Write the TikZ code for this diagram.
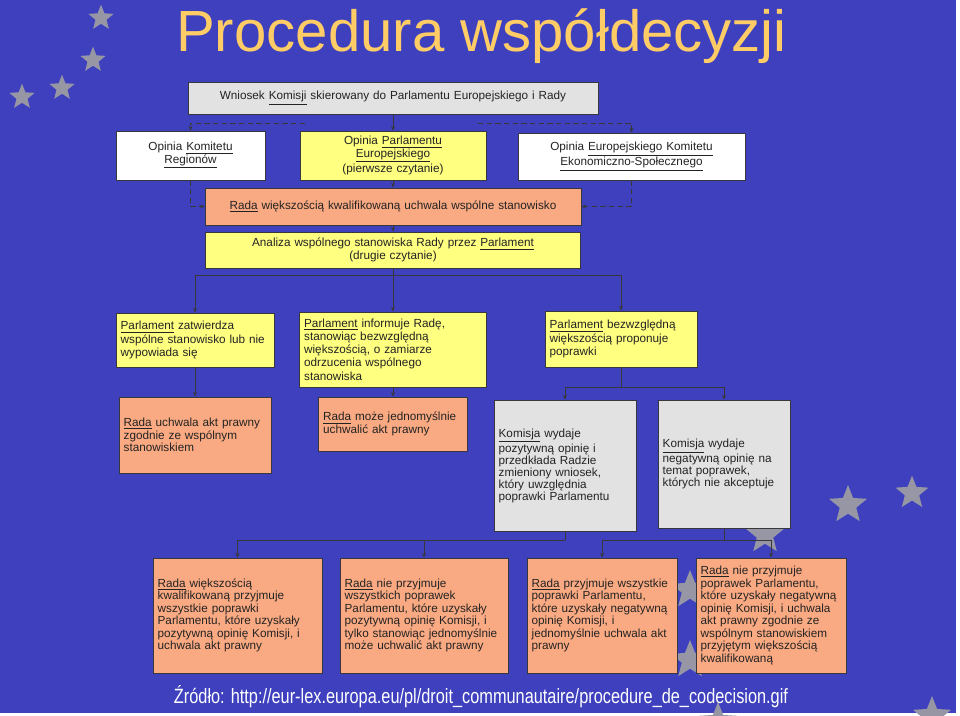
\documentclass[tikz,border=0pt]{standalone}
\usepackage{fontspec}
\setmainfont{Liberation Sans}
\usepackage{xcolor}
\usepackage{tikz}
\usetikzlibrary{
  shapes.geometric, arrows.meta, positioning, calc
}
\definecolor{slideblue}{RGB}{62,64,190}
\definecolor{titleorange}{RGB}{255,204,102}
\definecolor{stargray}{RGB}{150,150,165}
\definecolor{boxyellow}{RGB}{255,255,128}
\definecolor{boxorange}{RGB}{250,170,130}
\definecolor{boxgray}{RGB}{226,226,226}
\definecolor{boxline}{RGB}{55,55,60}
\definecolor{textdark}{RGB}{35,35,35}
\tikzset{
  cellbox/.style={
    rectangle, draw=boxline, line width=0.6pt, inner xsep=3.5pt, inner ysep=2pt,
    align=left, text=textdark, font=\fontsize{8.8}{9.4}\selectfont
  },
  centerbox/.style={cellbox, align=center},
  whitebox/.style={centerbox, fill=white},
  yellowbox/.style={cellbox, fill=boxyellow},
  orangebox/.style={cellbox, fill=boxorange},
  graybox/.style={cellbox, fill=boxgray},
  starshape/.style={
    star, star points=5, star point ratio=2.3, fill=stargray, inner sep=0pt
  },
  link/.style={line width=0.7pt, draw=boxline},
  arrow/.style={link, -{Stealth[length=3.5pt, width=3pt]}},
  dasharrow/.style={arrow, dash pattern=on 4pt off 2.5pt}
}

\begin{document}
\begin{tikzpicture}[x=0.75pt, y=-0.75pt]
  % Slide
  \useasboundingbox (0,0) rectangle (960,716);
  \fill[white] (0,0) rectangle (960,716);
  \fill[slideblue] (0,0) rectangle (956,713);
  \foreach \sx/\sy/\ssz [count=\i] in {101/18/20pt, 93/60/20pt, 62/88/20pt,
      22/97/20pt, 848/505/30pt, 912/493/26pt, 765/535/30pt, 690/590/30pt,
      690/660/30pt, 718/722/30pt, 932/716/30pt} {
    \node[starshape, minimum size=\ssz] (star\i) at (\sx,\sy) {};
  }

  % Title
  \node[font=\fontsize{43.6}{50}\selectfont, text=titleorange, anchor=base]
    (title) at (481.5,52) {Procedura współdecyzji};

  % First reading
  \node[centerbox, fill=boxgray, text width=300.5pt, minimum height=24pt]
    (wniosek) at (393,98)
    {Wniosek \underline{Komisji} skierowany do Parlamentu Europejskiego i Rady};
  \node[whitebox, text width=104.75pt, minimum height=36.75pt]
    (regiony) at (190.5,155.5) {Opinia \underline{Komitetu}\\\underline{Regionów}};
  \node[centerbox, fill=boxyellow, text width=132.5pt, minimum height=36.75pt]
    (pierwsze) at (393,155.5)
    {Opinia \underline{Parlamentu}\\\underline{Europejskiego}\\(pierwsze czytanie)};
  \node[whitebox, text width=163.25pt, minimum height=35.25pt]
    (ekes) at (631.5,156.5)
    {Opinia \underline{Europejskiego Komitetu}\\\underline{Ekonomiczno-Społecznego}};
  \node[centerbox, fill=boxorange, text width=275pt, minimum height=27.75pt]
    (stanowisko) at (393,206.5)
    {\underline{Rada} większością kwalifikowaną uchwala wspólne stanowisko};
  \node[centerbox, fill=boxyellow, text width=274.25pt, minimum height=27pt]
    (drugie) at (393,250)
    {Analiza wspólnego stanowiska Rady przez \underline{Parlament}\\(drugie czytanie)};

  % Second reading
  \node[yellowbox, font=\fontsize{8.8}{9.9}\selectfont, text width=111.5pt,
        minimum height=40.5pt] (zatwierdza) at (195,340)
    {\underline{Parlament} zatwierdza\\wspólne stanowisko lub nie\\wypowiada się};
  \node[yellowbox, font=\fontsize{8.8}{9.9}\selectfont, text width=133.25pt,
        minimum height=56.25pt] (informuje) at (393,349.5)
    {\underline{Parlament} informuje Radę,\\stanowiąc bezwzględną\\większością, o zamiarze\\odrzucenia wspólnego\\stanowiska};
  \node[yellowbox, font=\fontsize{8.8}{9.9}\selectfont, text width=107pt,
        minimum height=42pt] (poprawki) at (621,339)
    {\underline{Parlament} bezwzględną\\większością proponuje\\poprawki};

  % Council and Commission
  \node[orangebox, font=\fontsize{8.8}{9.4}\selectfont, text width=107pt,
        minimum height=57pt] (uchwala) at (195,435)
    {\underline{Rada} uchwala akt prawny\\zgodnie ze wspólnym\\stanowiskiem};
  \node[orangebox, font=\fontsize{8.8}{9.4}\selectfont, text width=104.75pt,
        minimum height=40.5pt] (jednomysl) at (393,424)
    {\underline{Rada} może jednomyślnie\\uchwalić akt prawny};
  \node[graybox, font=\fontsize{8.8}{9}\selectfont, text width=99.5pt,
        minimum height=98.25pt] (pozytywna) at (565,465.5)
    {\underline{Komisja} wydaje\\pozytywną opinię i\\przedkłada Radzie\\zmieniony wniosek,\\który uwzględnia\\poprawki Parlamentu};
  \node[graybox, font=\fontsize{8.8}{9}\selectfont, text width=92pt,
        minimum height=96pt] (negatywna) at (724,464)
    {\underline{Komisja} wydaje\\negatywną opinię na\\temat poprawek,\\których nie akceptuje};

  % Final decisions
  \node[orangebox, text width=119.75pt, minimum height=86.25pt]
    (kwalif) at (237.5,615.5)
    {\underline{Rada} większością\\kwalifikowaną przyjmuje\\wszystkie poprawki\\Parlamentu, które uzyskały\\pozytywną opinię Komisji, i\\uchwala akt prawny};
  \node[orangebox, text width=119pt, minimum height=86.25pt]
    (niepozyt) at (424,615.5)
    {\underline{Rada} nie przyjmuje\\wszystkich poprawek\\Parlamentu, które uzyskały\\pozytywną opinię Komisji, i\\tylko stanowiąc jednomyślnie\\może uchwalić akt prawny};
  \node[orangebox, text width=105.5pt, minimum height=86.25pt]
    (przyjneg) at (602,615.5)
    {\underline{Rada} przyjmuje wszystkie\\poprawki Parlamentu,\\które uzyskały negatywną\\opinię Komisji, i\\jednomyślnie uchwala akt\\prawny};
  \node[orangebox, text width=105.5pt, minimum height=86.25pt]
    (odrzneg) at (771,615.5)
    {\underline{Rada} nie przyjmuje\\poprawek Parlamentu,\\które uzyskały negatywną\\opinię Komisji, i uchwala\\akt prawny zgodnie ze\\wspólnym stanowiskiem\\przyjętym większością\\kwalifikowaną};

  % Source
  \node[font=\fontsize{15.5}{18}\selectfont, text=white, anchor=base]
    (zrodlo) at (481,703)
    {\scalebox{0.79}[1]{Źródło: http://eur-lex.europa.eu/pl/droit\_communautaire/procedure\_de\_codecision.gif}};

  % Connectors
  \coordinate (dashl) at (305,123);
  \coordinate (dashr) at (478,123);
  \coordinate (split2) at (393,275);
  \coordinate (split3) at (621,387);
  \coordinate (split4) at (565,540);
  \coordinate (split5) at (724,540);

  \draw[dasharrow] (dashl) -| (regiony.north);
  \draw[dasharrow] (dashr) -| (ekes.north);
  \draw[dasharrow] (regiony.south) |- (stanowisko.west);
  \draw[dasharrow] (ekes.south) |- (stanowisko.east);
  \draw[arrow] (wniosek) -- (pierwsze);
  \draw[arrow] (pierwsze) -- (stanowisko);
  \draw[arrow] (stanowisko) -- (drugie);

  \draw[link] (drugie.south) -- (split2);
  \draw[arrow] (split2) -| (zatwierdza.north);
  \draw[arrow] (split2) -- (informuje.north);
  \draw[arrow] (split2) -| (poprawki.north);

  \draw[arrow] (zatwierdza) -- (uchwala);
  \draw[arrow] (informuje) -- (jednomysl);
  \draw[link] (poprawki.south) -- (split3);
  \draw[arrow] (split3) -| (pozytywna.north);
  \draw[arrow] (split3) -| (negatywna.north);

  \draw[link] (pozytywna.south) -- (split4);
  \draw[arrow] (split4) -| (kwalif.north);
  \draw[arrow] (split4) -| (niepozyt.north);
  \draw[link] (negatywna.south) -- (split5);
  \draw[arrow] (split5) -| (przyjneg.north);
  \draw[arrow] (split5) -| (odrzneg.north);
\end{tikzpicture}
\end{document}
